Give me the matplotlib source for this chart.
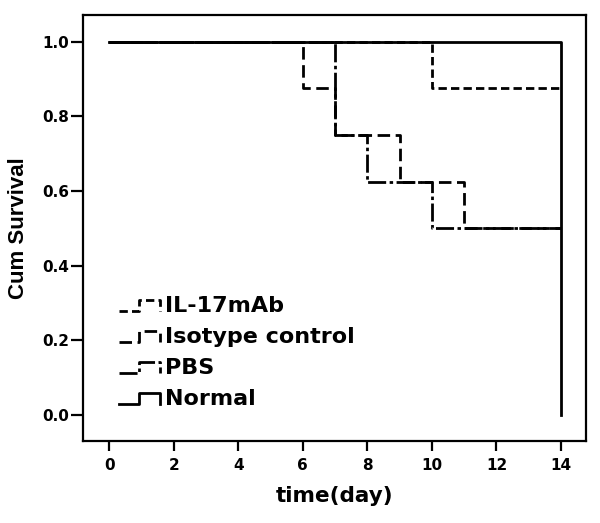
import matplotlib
matplotlib.use("Agg")
import matplotlib.pyplot as plt
from matplotlib.lines import Line2D
from matplotlib.legend_handler import HandlerBase

plt.rcParams['lines.scale_dashes'] = False

# ---- data (Kaplan-Meier step points) ----
groups = ["IL-17mAb", "Isotype control", "PBS", "Normal"]
il17_time = [0, 10, 14]
il17_surv = [1.0, 0.875, 0.875]
iso_time = [0, 6, 7, 9, 11, 14]
iso_surv = [1.0, 0.875, 0.75, 0.625, 0.5, 0.5]
pbs_time = [0, 7, 8, 10, 14]
pbs_surv = [1.0, 0.75, 0.625, 0.5, 0.5]
normal_time = [0, 14, 14]
normal_surv = [1.0, 1.0, 0.0]
xticks = [0, 2, 4, 6, 8, 10, 12, 14]
yticks = [0.0, 0.2, 0.4, 0.6, 0.8, 1.0]

styles = [
    dict(color="black", lw=2.0, dashes=(6, 3)),
    dict(color="black", lw=2.0, dashes=(9, 4)),
    dict(color="black", lw=2.0, dashes=(13, 2.5, 2.5, 2.5)),
    dict(color="black", lw=2.0, linestyle="-"),
]

fig = plt.figure(figsize=(6.0, 5.23), dpi=100)
ax = fig.add_axes([0.139, 0.157, 0.838, 0.814])

series = [(il17_time, il17_surv), (iso_time, iso_surv), (pbs_time, pbs_surv), (normal_time, normal_surv)]
handles = []
for (t, s), st in zip(series, styles):
    ln, = ax.step(t, s, where="post", **st)
    handles.append(ln)

ax.set_xlim(-0.80, 14.78)
ax.set_ylim(-0.0697, 1.0715)
ax.set_xticks(xticks)
ax.set_xticklabels([str(v) for v in xticks])
ax.set_yticks(yticks)
ax.set_yticklabels([f"{v:.1f}" for v in yticks])

for sp in ax.spines.values():
    sp.set_linewidth(1.6)
ax.tick_params(axis="x", length=7, width=1.6, pad=5)
ax.tick_params(axis="y", length=9, width=1.6, pad=1.5)
for lab in ax.get_xticklabels() + ax.get_yticklabels():
    lab.set_fontfamily("DejaVu Sans")
    lab.set_fontweight("bold")
    lab.set_fontsize(11)

ax.set_xlabel("time(day)", fontfamily="DejaVu Sans", fontweight="bold", fontsize=15.5, labelpad=10)
ax.set_ylabel("Cum Survival", fontfamily="Liberation Sans", fontweight="bold", fontsize=16, labelpad=9)


class StepHandler(HandlerBase):
    def create_artists(self, legend, orig_handle, xdescent, ydescent, width, height, fontsize, trans):
        x0 = -xdescent
        lo = -ydescent + 0.1 * height
        hi = -ydescent + 0.8 * height
        xs = [x0, x0 + 0.5 * width, x0 + 0.5 * width, x0 + width, x0 + width]
        ys = [lo, lo, hi, hi, lo]
        ln = Line2D(xs, ys, color="black", lw=orig_handle.get_linewidth())
        ls = orig_handle.get_linestyle()
        ln.set_linestyle(orig_handle._unscaled_dash_pattern if ls not in ("-", "solid") else "-")
        ln.set_transform(trans)
        return [ln]


leg = ax.legend(handles, groups, loc="center left", bbox_to_anchor=(0.0706, 0.207),
                frameon=False, handler_map={Line2D: StepHandler()},
                prop=dict(family="DejaVu Sans", weight="bold", size=16),
                handlelength=1.85, handletextpad=0.22, labelspacing=0.5,
                borderpad=0, borderaxespad=0)

fig.savefig("out.png", dpi=100)
